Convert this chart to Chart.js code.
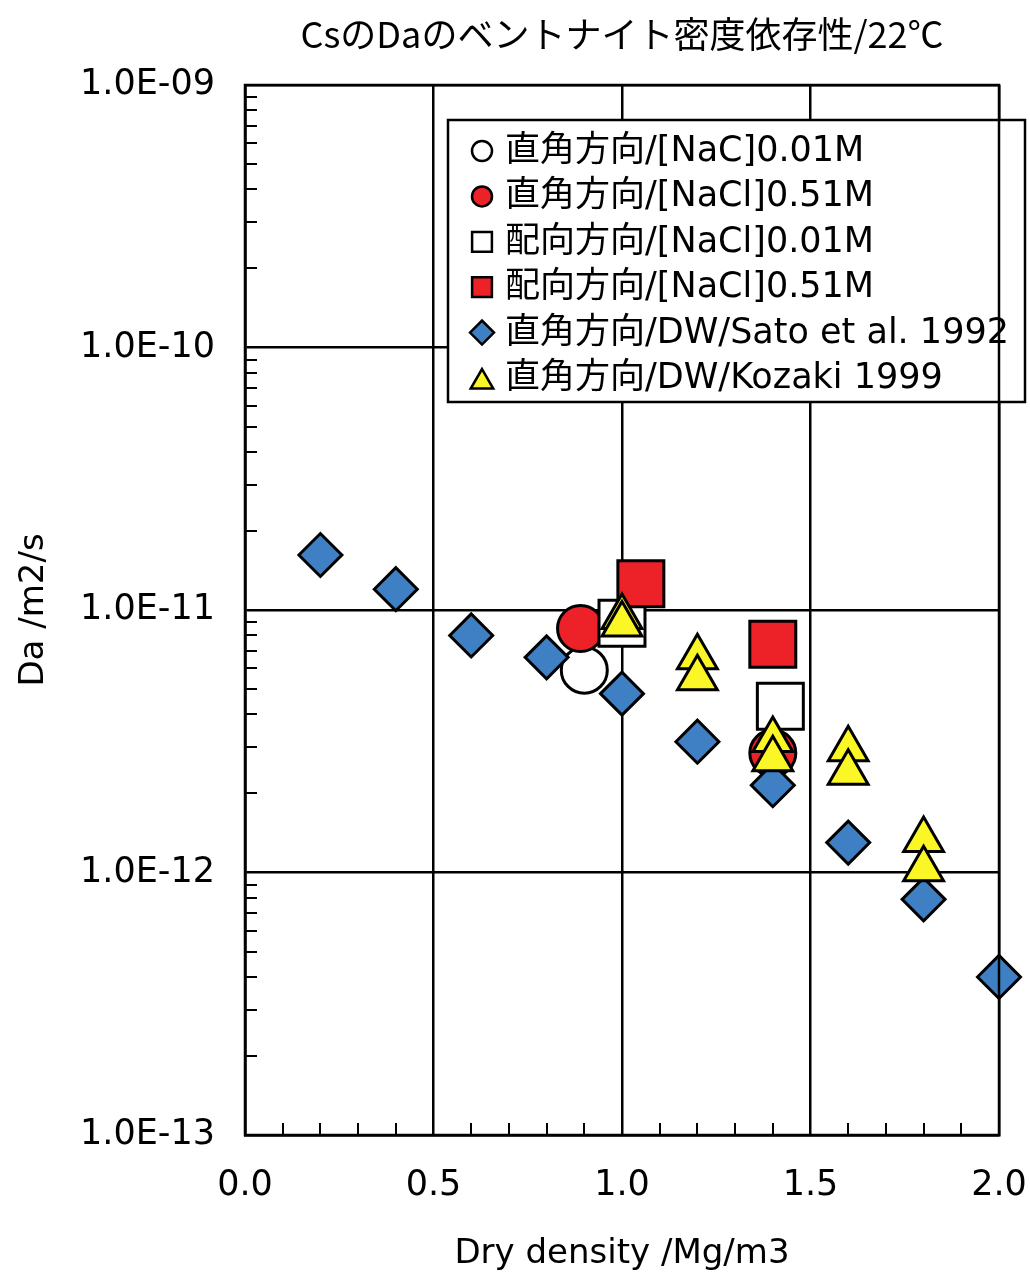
<!DOCTYPE html>
<html>
<head>
<meta charset="utf-8">
<script src="https://cdn.jsdelivr.net/npm/chart.js@4/dist/chart.umd.min.js"></script>
<style>
  html, body { margin: 0; padding: 0; background: #fff; }
  #wrap { width: 1030px; height: 1275px; position: relative; }
</style>
</head>
<body>
<div id="wrap"><canvas id="c"></canvas></div>
<script>
// Cs apparent diffusivity Da versus bentonite dry density at 22 °C
const titleText = 'CsのDaのベントナイト密度依存性/22℃';
const xAxisTitle = 'Dry density /Mg/m3';
const yAxisTitle = 'Da /m2/s';

const seriesLabels = [
  '直角方向/[NaC]0.01M',
  '直角方向/[NaCl]0.51M',
  '配向方向/[NaCl]0.01M',
  '配向方向/[NaCl]0.51M',
  '直角方向/DW/Sato et al. 1992',
  '直角方向/DW/Kozaki 1999'
];

// perpendicular, 0.01 M NaCl
const perp001X = [0.9];
const perp001Y = [5.9e-12];
// perpendicular, 0.51 M NaCl
const perp051X = [0.89, 1.4];
const perp051Y = [8.5e-12, 2.85e-12];
// oriented, 0.01 M NaCl
const orient001X = [1.0, 1.42];
const orient001Y = [8.9e-12, 4.3e-12];
// oriented, 0.51 M NaCl
const orient051X = [1.05, 1.4];
const orient051Y = [1.26e-11, 7.4e-12];
// Sato et al. 1992, distilled water
const satoX = [0.2, 0.4, 0.6, 0.8, 1.0, 1.2, 1.4, 1.6, 1.8, 2.0];
const satoY = [1.62e-11, 1.2e-11, 8.0e-12, 6.6e-12, 4.8e-12, 3.15e-12, 2.15e-12, 1.3e-12, 7.9e-13, 4.0e-13];
// Kozaki 1999, distilled water
const kozakiX = [1.0, 1.0, 1.2, 1.2, 1.4, 1.4, 1.6, 1.6, 1.8, 1.8];
const kozakiY = [9.4e-12, 8.8e-12, 6.6e-12, 5.5e-12, 3.2e-12, 2.7e-12, 2.95e-12, 2.4e-12, 1.33e-12, 1.03e-12];

const xTickValues = [0.0, 0.5, 1.0, 1.5, 2.0];
const yDecades = [-13, -12, -11, -10, -9];

const RED = '#ec2228';
const BLUE = '#3f7fc4';
const YELLOW = '#fbf626';

function pts(xs, ys) { return xs.map((x, i) => ({ x: x, y: ys[i] })); }

function sciLabel(v) {
  const e = Math.round(Math.log10(v));
  const s = e < 0 ? '-' : '+';
  const a = String(Math.abs(e)).padStart(2, '0');
  return '1.0E' + s + a;
}

const TICK_FONT = { family: "'DejaVu Sans', sans-serif", size: 35 };
const AXIS_TITLE_FONT = { family: "'DejaVu Sans', sans-serif", size: 34 };

// small inward ticks along the left and bottom axes, plus the plot frame
const minorTicks = {
  id: 'minorTicks',
  afterDraw(chart) {
    const { ctx, chartArea, scales } = chart;
    const len = 12;
    ctx.save();
    ctx.strokeStyle = '#000';
    ctx.lineWidth = 2;
    ctx.beginPath();
    for (let d = yDecades[0]; d < yDecades[yDecades.length - 1]; d++) {
      for (let m = 2; m <= 9; m++) {
        const py = Math.round(scales.y.getPixelForValue(m * Math.pow(10, d)));
        ctx.moveTo(chartArea.left, py);
        ctx.lineTo(chartArea.left + len, py);
      }
    }
    for (let k = 1; k < 20; k++) {
      if (k % 5 === 0) continue;
      const px = Math.round(scales.x.getPixelForValue(k / 10));
      ctx.moveTo(px, chartArea.bottom);
      ctx.lineTo(px, chartArea.bottom - len);
    }
    ctx.stroke();
    ctx.lineWidth = 2.5;
    ctx.strokeRect(chartArea.left, chartArea.top, chartArea.right - chartArea.left, chartArea.bottom - chartArea.top);
    ctx.restore();
  }
};

// boxed legend placed over the upper right of the plot
const boxLegend = {
  id: 'boxLegend',
  afterDatasetsDraw(chart, args, opts) {
    const { ctx } = chart;
    ctx.save();
    ctx.fillStyle = '#fff';
    ctx.fillRect(opts.left, opts.top, opts.width, opts.height);
    ctx.strokeStyle = '#000';
    ctx.lineWidth = 2.5;
    ctx.strokeRect(opts.left, opts.top, opts.width, opts.height);
    ctx.font = opts.font;
    ctx.textBaseline = 'middle';
    ctx.textAlign = 'left';
    chart.data.datasets.forEach((ds, i) => {
      const cy = opts.firstRow + i * opts.rowStep;
      ctx.fillStyle = ds.pointBackgroundColor;
      ctx.strokeStyle = '#000';
      ctx.lineWidth = 2.5;
      Chart.helpers.drawPoint(ctx, {
        pointStyle: ds.pointStyle,
        radius: opts.markerRadius[ds.pointStyle],
        rotation: 0,
        borderWidth: 2.5
      }, opts.markerX, cy + (ds.pointStyle === 'triangle' ? 4 : 0));
      ctx.fillStyle = '#000';
      ctx.fillText(ds.label, opts.textX, cy + 1);
    });
    ctx.restore();
  }
};

function ds(label, xs, ys, style, fill, radius, order) {
  return {
    label: label,
    data: pts(xs, ys),
    pointStyle: style,
    backgroundColor: fill,
    borderColor: '#000',
    pointBackgroundColor: fill,
    pointBorderColor: '#000',
    pointBorderWidth: 3,
    pointHoverBorderWidth: 3,
    pointRadius: radius,
    pointHoverRadius: radius,
    showLine: false,
    clip: false,
    order: order
  };
}

const datasets = [
  ds(seriesLabels[0], perp001X, perp001Y, 'circle', '#ffffff', 23, 6),
  ds(seriesLabels[1], perp051X, perp051Y, 'circle', RED, 23, 5),
  ds(seriesLabels[2], orient001X, orient001Y, 'rect', '#ffffff', 32.5, 4),
  ds(seriesLabels[3], orient051X, orient051Y, 'rect', RED, 32.5, 3),
  ds(seriesLabels[4], satoX, satoY, 'rectRot', BLUE, 21.5, 2),
  ds(seriesLabels[5], kozakiX, kozakiY, 'triangle', YELLOW, 23, 1)
];

new Chart(document.getElementById('c'), {
  type: 'scatter',
  data: { datasets: datasets },
  plugins: [minorTicks, boxLegend],
  options: {
    responsive: true,
    maintainAspectRatio: false,
    animation: false,
    events: [],
    layout: { autoPadding: false, padding: { left: 0, right: 31, top: 0, bottom: 0 } },
    plugins: {
      legend: { display: false },
      tooltip: { enabled: false },
      title: {
        display: true,
        text: titleText,
        fullSize: false,
        color: '#000',
        font: { family: "'Noto Sans CJK JP', sans-serif", size: 36, weight: 'normal', lineHeight: 1.2 },
        padding: { top: 13, bottom: 28.8 }
      },
      boxLegend: {
        left: 448, top: 120, width: 577, height: 282,
        firstRow: 151, rowStep: 45.4,
        markerX: 482, textX: 505,
        markerRadius: { circle: 10, rect: 14, rectRot: 12, triangle: 13 },
        font: "35px 'DejaVu Sans', 'Noto Sans CJK JP', sans-serif"
      }
    },
    scales: {
      x: {
        type: 'linear',
        min: 0,
        max: 2,
        afterBuildTicks(scale) { scale.ticks = xTickValues.map(v => ({ value: v })); },
        afterFit(scale) { scale.height = 140; scale.paddingLeft = 0; scale.paddingRight = 0; },
        ticks: {
          color: '#000',
          font: TICK_FONT,
          padding: 30,
          maxRotation: 0,
          callback: v => Number(v).toFixed(1)
        },
        grid: { color: '#000', lineWidth: 2.5, drawTicks: false },
        border: { display: true, color: '#000', width: 2.5 },
        title: {
          display: true,
          text: xAxisTitle,
          color: '#000',
          font: AXIS_TITLE_FONT,
          padding: { top: 0, bottom: 0 }
        }
      },
      y: {
        type: 'logarithmic',
        min: 1e-13,
        max: 1e-9,
        afterBuildTicks(scale) { scale.ticks = yDecades.map(e => ({ value: Math.pow(10, e) })); },
        afterFit(scale) { scale.width = 245; scale.paddingTop = 0; scale.paddingBottom = 0; },
        ticks: {
          color: '#000',
          font: TICK_FONT,
          padding: 30,
          autoSkip: false,
          callback: v => sciLabel(v)
        },
        grid: { color: '#000', lineWidth: 2.5, drawTicks: false },
        border: { display: true, color: '#000', width: 2.5 },
        title: {
          display: true,
          text: yAxisTitle,
          color: '#000',
          font: AXIS_TITLE_FONT,
          padding: { top: 14, bottom: 0 }
        }
      }
    }
  }
});
</script>
</body>
</html>
